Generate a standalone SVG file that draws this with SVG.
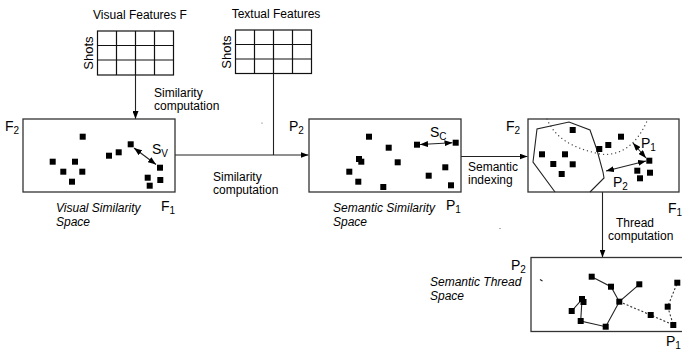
<svg xmlns="http://www.w3.org/2000/svg" width="682" height="350" viewBox="0 0 682 350">
<defs>
<marker id="ah" viewBox="0 0 8 6" refX="8" refY="3" markerWidth="8" markerHeight="6" markerUnits="userSpaceOnUse" orient="auto-start-reverse">
<path d="M0,0 L8,3 L0,6 z" fill="#000"/>
</marker>
<rect id="sq" x="-3" y="-3" width="6" height="6" fill="#000"/>
</defs>
<style>
text{font-family:"Liberation Sans",Arial,sans-serif;font-size:12px;fill:#000}
.it{font-style:italic}
.lb{font-size:14px}
.sub{font-size:10px}
.sh{font-size:13px}
.box{fill:#fff;stroke:#333;stroke-width:1.3}
.grid{fill:none;stroke:#111;stroke-width:1.2}
.ln{fill:none;stroke:#222;stroke-width:1.1}
.dot{fill:none;stroke:#333;stroke-width:1.1;stroke-dasharray:2 2}
.dotc{fill:none;stroke:#444;stroke-width:1.3;stroke-dasharray:0.1 4;stroke-linecap:round}
</style>

<g id="visual-features">
<text x="140" y="19" text-anchor="middle">Visual Features F</text>
<rect class="grid" x="97.5" y="31" width="76" height="44"/>
<path class="grid" d="M116.5,31V75M135.5,31V75M154.5,31V75M97.5,45.5H173.5M97.5,60H173.5"/>
<text class="sh" transform="translate(93,53) rotate(-90)" text-anchor="middle">Shots</text>
</g>

<g id="textual-features">
<text x="276" y="18" text-anchor="middle">Textual Features</text>
<rect class="grid" x="235.5" y="30" width="76" height="43.5"/>
<path class="grid" d="M254.5,30V73.5M273.5,30V73.5M292.5,30V73.5M235.5,44.5H311.5M235.5,59H311.5"/>
<text class="sh" transform="translate(231,52) rotate(-90)" text-anchor="middle">Shots</text>
</g>

<g id="connectors">
<line class="ln" x1="135.5" y1="75" x2="135.5" y2="119" marker-end="url(#ah)"/>
<text x="154" y="97">Similarity</text>
<text x="154" y="110">computation</text>
<line class="ln" x1="174.5" y1="155" x2="308.5" y2="155" marker-end="url(#ah)"/>
<line class="ln" x1="273.5" y1="73.5" x2="273.5" y2="155"/>
<text x="213" y="181">Similarity</text>
<text x="213" y="194">computation</text>
<line class="ln" x1="461" y1="156.5" x2="527.5" y2="156.5" marker-end="url(#ah)"/>
<text x="468" y="171">Semantic</text>
<text x="468" y="184">indexing</text>
<line class="ln" x1="602.5" y1="192" x2="602.5" y2="257.5" marker-end="url(#ah)"/>
<text x="616" y="227">Thread</text>
<text x="608" y="240">computation</text>
</g>

<g id="visual-similarity-space">
<rect class="box" x="23" y="119" width="152" height="73"/>
<text class="lb" x="5" y="131">F<tspan class="sub" dy="3">2</tspan></text>
<text class="lb" x="161" y="211">F<tspan class="sub" dy="3">1</tspan></text>
<text class="lb" x="152" y="154">S<tspan class="sub" dy="3">V</tspan></text>
<text class="it" x="56" y="212">Visual Similarity</text>
<text class="it" x="56" y="226">Space</text>
<use href="#sq" x="82.7" y="136.7"/><use href="#sq" x="130.7" y="144.3"/><use href="#sq" x="118.7" y="152.3"/>
<use href="#sq" x="109" y="155.7"/><use href="#sq" x="52.7" y="161.7"/><use href="#sq" x="75" y="161.7"/>
<use href="#sq" x="63.3" y="171.7"/><use href="#sq" x="82.3" y="171.7"/><use href="#sq" x="72" y="181.7"/>
<use href="#sq" x="160" y="167.7"/><use href="#sq" x="147.7" y="177.7"/><use href="#sq" x="160.3" y="180"/>
<use href="#sq" x="149.7" y="185.7"/>
<line class="ln" x1="134" y1="148" x2="156" y2="164.5" marker-start="url(#ah)" marker-end="url(#ah)"/>
</g>

<g id="semantic-similarity-space">
<rect class="box" x="309" y="119" width="152" height="73"/>
<text class="lb" x="289" y="131">P<tspan class="sub" dy="3">2</tspan></text>
<text class="lb" x="446" y="210">P<tspan class="sub" dy="3">1</tspan></text>
<text class="lb" x="430" y="137">S<tspan class="sub" dy="3">C</tspan></text>
<text class="it" x="333" y="212">Semantic Similarity</text>
<text class="it" x="333" y="226">Space</text>
<use href="#sq" x="369" y="136.7"/><use href="#sq" x="388.7" y="147.7"/><use href="#sq" x="417" y="144.7"/>
<use href="#sq" x="455.7" y="142.7"/><use href="#sq" x="359" y="159"/><use href="#sq" x="361.3" y="161.7"/>
<use href="#sq" x="397.7" y="162.3"/><use href="#sq" x="349.3" y="171.7"/><use href="#sq" x="445.3" y="167.3"/>
<use href="#sq" x="428.7" y="175.7"/><use href="#sq" x="358.3" y="181.7"/><use href="#sq" x="383.3" y="187"/>
<use href="#sq" x="451" y="185.3"/>
<line class="ln" x1="420" y1="144.5" x2="452.5" y2="142.8" marker-start="url(#ah)" marker-end="url(#ah)"/>
<circle cx="262" cy="123" r="0.6" fill="#555"/>
</g>

<g id="semantic-indexing-space">
<rect class="box" x="528" y="119" width="151" height="73"/>
<text class="lb" x="506" y="131">F<tspan class="sub" dy="3">2</tspan></text>
<text class="lb" x="668" y="213">F<tspan class="sub" dy="3">1</tspan></text>
<text class="lb" x="641" y="148">P<tspan class="sub" dy="3">1</tspan></text>
<text class="lb" x="613" y="187">P<tspan class="sub" dy="3">2</tspan></text>
<path class="ln" d="M555,192 L533,162 L537,129 L569,122 L590,130 L597,150 L603,172 L604,178 L590,192"/>
<path class="dotc" d="M547,119 C555,138 572,148 600,154 C622,157 638,142 647,121"/>
<use href="#sq" x="572.7" y="130"/><use href="#sq" x="608.3" y="145"/><use href="#sq" x="621" y="136.7"/>
<use href="#sq" x="599.3" y="149"/><use href="#sq" x="542" y="154.3"/><use href="#sq" x="565" y="154.3"/>
<use href="#sq" x="553.3" y="164"/><use href="#sq" x="572.7" y="164.3"/><use href="#sq" x="561.7" y="174"/>
<use href="#sq" x="649.3" y="160.7"/><use href="#sq" x="637.3" y="170.7"/><use href="#sq" x="650" y="172.7"/>
<use href="#sq" x="640" y="178.3"/>
<line class="ln" x1="633" y1="143" x2="646" y2="158" marker-start="url(#ah)" marker-end="url(#ah)"/>
<line class="ln" x1="606" y1="171" x2="646" y2="161" marker-start="url(#ah)" marker-end="url(#ah)"/>
<circle cx="500" cy="228.5" r="0.6" fill="#555"/>
</g>

<g id="semantic-thread-space">
<rect class="box" x="531" y="257.5" width="160" height="74"/>
<text class="lb" x="511" y="270">P<tspan class="sub" dy="3">2</tspan></text>
<text class="lb" x="666" y="346">P<tspan class="sub" dy="3">1</tspan></text>
<text class="it" x="430" y="286">Semantic Thread</text>
<text class="it" x="430" y="300">Space</text>
<path class="ln" d="M540,279.5 L542.5,281"/>
<path class="ln" d="M591.7,276.7 L611,286.7 L619.3,301.7 L639.3,284.3 M619.3,301.7 L605.7,326.7 L580.7,321 L582,299.3 L571.7,311"/>
<path class="dot" d="M619.3,301.7 L650.7,315 L673.3,325 L667.7,306.7 L677.3,282.7"/>
<use href="#sq" x="591.7" y="276.7"/><use href="#sq" x="611" y="286.7"/><use href="#sq" x="639.3" y="284.3"/>
<use href="#sq" x="677.3" y="282.7"/><use href="#sq" x="582" y="299"/><use href="#sq" x="583.5" y="302"/>
<use href="#sq" x="571.7" y="311"/><use href="#sq" x="619.3" y="301.7"/><use href="#sq" x="667.7" y="306.7"/>
<use href="#sq" x="650.7" y="315"/><use href="#sq" x="580.7" y="321"/><use href="#sq" x="605.7" y="326.7"/>
<use href="#sq" x="673.3" y="325"/>
</g>
</svg>
